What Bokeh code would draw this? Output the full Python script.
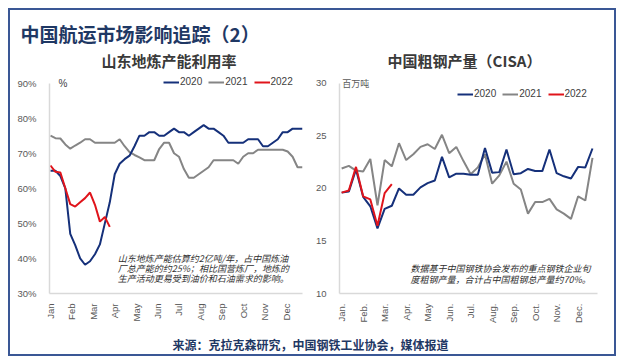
from bokeh.plotting import figure
from bokeh.models import Range1d, FixedTicker, Legend, LegendItem, Label
from bokeh.layouts import column, row
from bokeh.core.properties import value
from bokeh.embed import file_html
from bokeh.resources import INLINE
import math

# ---------------- data ----------------
months_left = ["Jan", "Feb", "Mar", "Apr", "May", "Jun", "Jul", "Aug", "Sep", "Oct", "Nov", "Dec"]
months_right = ["Jan.", "Feb.", "Mar.", "Apr.", "May", "Jun.", "Jul.", "Aug.", "Sep.", "Oct.", "Nov.", "Dec."]
series_names = ["2020", "2021", "2022"]

# Shandong teapot refinery utilisation, weekly (%)
util_2020 = [65, 65, 63.5, 60, 47, 43.8, 40, 38.2, 39.2, 41.2, 44, 50, 56, 64, 67, 68.3, 69.3, 72,
             75, 75, 76, 76, 75, 75, 76, 77, 76, 76, 75, 76, 77, 78, 77, 77, 76, 75, 73, 73, 73, 73,
             74, 74, 74, 72, 72, 73, 74, 76, 76, 77, 77, 77]
util_2021 = [75, 74.3, 74.2, 72.5, 71.3, 72.2, 73, 74, 74, 73, 73, 73, 73, 73, 74, 72, 70.3, 69.5,
             68.8, 68, 68, 68, 71.2, 73, 73, 70, 69, 65.5, 63, 63, 64, 65, 66, 68, 68, 68, 68, 68,
             67, 69, 70, 70, 71, 71, 71, 71, 71, 71, 70.5, 69, 66, 66]
util_2022 = [66.5, 64.7, 64.5, 60, 55.5, 54.8, 56, 57.2, 58.8, 55.3, 50.5, 51.8, 49]
util_ticks = [30, 40, 50, 60, 70, 80, 90]

# China crude steel output (CISA), per ten-day period (million tonnes)
steel_2020 = [19.6, 19.7, 21.8, 19.2, 18.3, 16.2, 18.05, 18.35, 20.0, 19.4, 19.4, 20.1, 20.5, 20.75,
              23.0, 21.05, 21.4, 21.4, 21.3, 21.3, 23.85, 21.5, 21.55, 23.7, 21.35, 21.45, 21.85,
              21.65, 21.65, 23.7, 21.45, 21.15, 20.95, 22.05, 22.0, 23.8]
steel_2021 = [21.9, 22.15, 21.7, 21.6, 22.8, 18.4, 22.7, 22.1, 24.3, 22.7, 23.25, 23.95, 24.2, 23.75,
              25.1, 23.35, 23.95, 22.6, 21.35, 22.0, 23.25, 20.45, 21.25, 22.55, 20.45, 19.9, 17.6,
              18.7, 18.7, 19.0, 18.0, 17.6, 17.1, 19.25, 18.85, 22.9]
steel_2022 = [19.6, 19.8, 22.05, 19.25, 18.95, 16.45, 19.55, 20.4]
steel_ticks = [10, 15, 20, 25, 30]

title_text = "中国航运市场影响追踪（2）"
left_title = "山东地炼产能利用率"
right_title = "中国粗钢产量（CISA）"
left_unit = "%"
right_unit = "百万吨"
left_note = ["山东地炼产能估算约2亿吨/年，占中国炼油",
             "厂总产能的约25%；相比国营炼厂，地炼的",
             "生产活动更易受到油价和石油需求的影响。"]
right_note = ["数据基于中国钢铁协会发布的重点钢铁企业旬",
              "度粗钢产量，合计占中国粗钢总产量约70%。"]
source_text = "来源：克拉克森研究，中国钢铁工业协会，媒体报道"

# ---------------- style ----------------
CJK = "Noto Sans CJK SC"
LAT = "Liberation Sans"
NAVY = "#1F3864"
C2020 = "#15307A"
C2021 = "#858585"
C2022 = "#E0141B"
AXIS_C = "#D9D9D9"
TICK_C = "#595959"


def blank_fig(w, h):
    p = figure(width=w, height=h, x_range=Range1d(0, w), y_range=Range1d(0, h),
               min_border=0, toolbar_location=None, output_backend="svg",
               x_axis_location=None, y_axis_location=None, title=None)
    p.grid.grid_line_color = None
    p.outline_line_color = None
    return p


def style_axes(p):
    for ax in p.axis:
        ax.axis_line_color = AXIS_C
        ax.axis_line_width = 1.5
        ax.major_tick_line_color = None
        ax.minor_tick_line_color = None
        ax.major_label_text_color = TICK_C
        ax.major_label_text_font = LAT
        ax.major_label_text_font_size = "9.5px"
    p.grid.grid_line_color = None
    p.outline_line_color = None
    p.background_fill_color = "white"


# ---------------- header ----------------
header = blank_fig(604, 62)
header.text(x=[10], y=[39], text=[title_text], text_font=value(CJK), text_font_size="19px",
            text_font_style="bold", text_color=NAVY, text_baseline="middle", text_align="left")
header.text(x=[158.5, 454], y=[12, 12], text=[left_title, right_title], text_font=value(CJK),
            text_font_size="15px", text_font_style="bold", text_color="#3A3A3A",
            text_baseline="middle", text_align="center")

# ---------------- left chart ----------------
lw = len(util_2020)
left = figure(width=302, height=258, x_range=Range1d(-0.2, lw - 1), y_range=Range1d(30, 91.88),
              min_border_left=39, min_border_right=10, min_border_top=4, min_border_bottom=34,
              toolbar_location=None, output_backend="svg", title=None)
style_axes(left)
left.yaxis.bounds = (30, 90)
r21 = left.line(list(range(len(util_2021))), util_2021, line_color=C2021, line_width=2)
r20 = left.line(list(range(len(util_2020))), util_2020, line_color=C2020, line_width=2)
r22 = left.line(list(range(len(util_2022))), util_2022, line_color=C2022, line_width=2)
wpm = 52 / 12
left.xaxis.ticker = FixedTicker(ticks=[m * wpm for m in range(12)])
left.xaxis.major_label_overrides = {m * wpm: months_left[m] for m in range(12)}
left.xaxis.major_label_orientation = math.pi / 2
left.xaxis.major_label_standoff = 4
left.yaxis.ticker = FixedTicker(ticks=util_ticks)
left.yaxis.major_label_overrides = {t: f"{t}%" for t in util_ticks}
left.yaxis.major_label_standoff = 7
leg_l = Legend(items=[LegendItem(label=series_names[0], renderers=[r20]),
                      LegendItem(label=series_names[1], renderers=[r21]),
                      LegendItem(label=series_names[2], renderers=[r22])],
               orientation="horizontal", location=(114, 206), glyph_width=16, glyph_height=10,
               label_text_font_size="10px", label_text_font=LAT, label_text_color="#404040",
               label_standoff=1, spacing=6, padding=0, margin=0, border_line_color=None,
               background_fill_alpha=0, label_height=10)
left.add_layout(leg_l)
left.add_layout(Label(x=1.6, y=90, text=left_unit, text_font=LAT, text_font_size="10px",
                      text_color="#404040", text_baseline="middle", text_align="left"))
left.text(x=[13.6] * 3, y=[40.1, 37.0, 34.2], text=left_note, text_font=value(CJK),
          text_font_size="9px", text_font_style="italic", text_color="#303030",
          text_baseline="middle", text_align="left")

# ---------------- right chart ----------------
rw = len(steel_2020)
right = figure(width=302, height=258, x_range=Range1d(-0.3, rw - 0.3), y_range=Range1d(10, 30.65),
               min_border_left=26, min_border_right=17, min_border_top=0, min_border_bottom=37,
               toolbar_location=None, output_backend="svg", title=None)
style_axes(right)
right.yaxis.bounds = (10, 30)
s21 = right.line(list(range(len(steel_2021))), steel_2021, line_color=C2021, line_width=2)
s20 = right.line(list(range(len(steel_2020))), steel_2020, line_color=C2020, line_width=2)
s22 = right.line(list(range(len(steel_2022))), steel_2022, line_color=C2022, line_width=2)
right.xaxis.ticker = FixedTicker(ticks=[3 * m for m in range(12)])
right.xaxis.major_label_overrides = {3 * m: months_right[m] for m in range(12)}
right.xaxis.major_label_orientation = math.pi / 2
right.xaxis.major_label_standoff = 4
right.yaxis.ticker = FixedTicker(ticks=steel_ticks)
right.yaxis.major_label_standoff = 7
leg_r = Legend(items=[LegendItem(label=series_names[0], renderers=[s20]),
                      LegendItem(label=series_names[1], renderers=[s21]),
                      LegendItem(label=series_names[2], renderers=[s22])],
               orientation="horizontal", location=(118, 194), glyph_width=16, glyph_height=10,
               label_text_font_size="10px", label_text_font=LAT, label_text_color="#404040",
               label_standoff=1, spacing=6, padding=0, margin=0, border_line_color=None,
               background_fill_alpha=0, label_height=10)
right.add_layout(leg_r)
right.add_layout(Label(x=0.1, y=30.0, text=right_unit, text_font=CJK, text_font_size="9px",
                       text_color=TICK_C, text_baseline="middle", text_align="left"))
right.text(x=[9.6] * 2, y=[12.34, 11.31], text=right_note, text_font=value(CJK),
           text_font_size="9px", text_font_style="italic", text_color="#303030",
           text_baseline="middle", text_align="left")

# ---------------- footer ----------------
footer = blank_fig(604, 24)
footer.text(x=[300], y=[10], text=[source_text], text_font=value(CJK), text_font_size="12px",
            text_font_style="bold", text_color=NAVY, text_baseline="middle", text_align="center")

page = column(header, row(left, right), footer, margin=(8, 8, 8, 8),
              styles={"border": "2px solid #3A5795"})

open("out.html", "w").write(file_html(page, INLINE))
